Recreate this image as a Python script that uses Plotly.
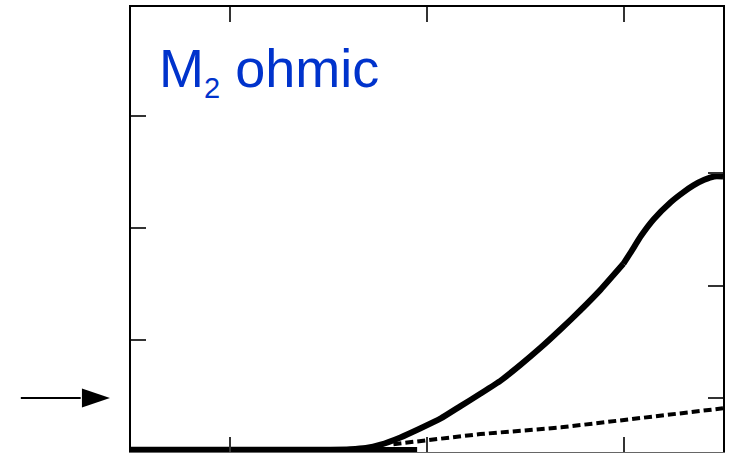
import plotly.graph_objects as go

# Solid curve (M2 ohmic)
solid_x = [0.0, 2.02, 2.22, 2.38, 2.53, 2.73, 2.93, 3.14, 3.34, 3.54, 3.75, 3.95, 4.15,
           4.36, 4.56, 4.76, 4.99, 5.07, 5.17, 5.30, 5.47, 5.60, 5.70, 5.81, 5.91, 6.0]
solid_y = [0.02, 0.02, 0.024, 0.035, 0.065, 0.13, 0.21, 0.30, 0.41, 0.52, 0.64, 0.78, 0.93,
           1.10, 1.27, 1.45, 1.68, 1.79, 1.93, 2.08, 2.23, 2.32, 2.38, 2.43, 2.46, 2.46]
kink_index = 16  # slope break near x = 5

# Dotted curve
dot_x = [2.66, 3.54, 4.36, 5.20, 6.0]
dot_y = [0.07, 0.16, 0.22, 0.31, 0.39]

# Thick baseline segment
base_x = [0.0, 2.90]
base_y = [0.02, 0.02]

x_ticks = [1, 3, 5]
y_ticks = [1, 2, 3]
y2_ticks = [1, 2, 3]
label = "M<sub><span style='font-size:29px'>2</span></sub> ohmic"

fig = go.Figure()
fig.add_trace(go.Scatter(x=base_x, y=base_y, mode="lines",
                         line=dict(color="black", width=5.5), showlegend=False, hoverinfo="skip"))
fig.add_trace(go.Scatter(x=dot_x, y=dot_y, mode="lines",
                         line=dict(color="black", width=4, dash="8px,4px"), showlegend=False, hoverinfo="skip"))
for seg in (slice(0, kink_index + 1), slice(kink_index, None)):
    fig.add_trace(go.Scatter(x=solid_x[seg], y=solid_y[seg], mode="lines",
                             line=dict(color="black", width=6, shape="spline", smoothing=0.5),
                             showlegend=False, hoverinfo="skip"))
fig.add_trace(go.Scatter(x=[None], y=[None], xaxis="x2", yaxis="y2", showlegend=False, hoverinfo="skip"))

tick_common = dict(ticks="inside", ticklen=15, tickwidth=1.5, tickcolor="#333",
                   showticklabels=False, showgrid=False, zeroline=False)

fig.update_layout(
    width=732, height=453,
    margin=dict(l=131, r=9, t=7, b=1),
    paper_bgcolor="white", plot_bgcolor="white",
    xaxis=dict(range=[0, 6], tickvals=x_ticks, showline=True, linecolor="#666", linewidth=1, **tick_common),
    xaxis2=dict(range=[0, 6], tickvals=x_ticks, overlaying="x", side="top", anchor="y",
                showline=True, linecolor="black", linewidth=2, **tick_common),
    yaxis=dict(range=[0, 3.973], tickvals=y_ticks, showline=True, linecolor="black", linewidth=2, **tick_common),
    yaxis2=dict(range=[0.52, 4.476], tickvals=y2_ticks, overlaying="y", side="right", anchor="x",
                showline=True, linecolor="black", linewidth=2, **tick_common),
    font=dict(family="Liberation Sans, Arial, sans-serif"),
)

fig.add_annotation(text=label, x=0.044, y=0.857, xref="paper", yref="paper",
                   xanchor="left", yanchor="middle", showarrow=False,
                   font=dict(size=54, color="#0033CC", family="Liberation Sans, Arial, sans-serif"))

# Arrow pointing at the right-axis level y2 = 1 from outside the left edge
fig.add_shape(type="line", xref="paper", yref="y2", x0=-0.1861, x1=-0.085, y0=1, y1=1,
              line=dict(color="black", width=2))
fig.add_shape(type="path", xref="paper", yref="y2",
              path="M -0.0829 1.085 L -0.0355 1 L -0.0829 0.915 Z",
              fillcolor="black", line=dict(color="black", width=0))

fig.write_html("out.html")
